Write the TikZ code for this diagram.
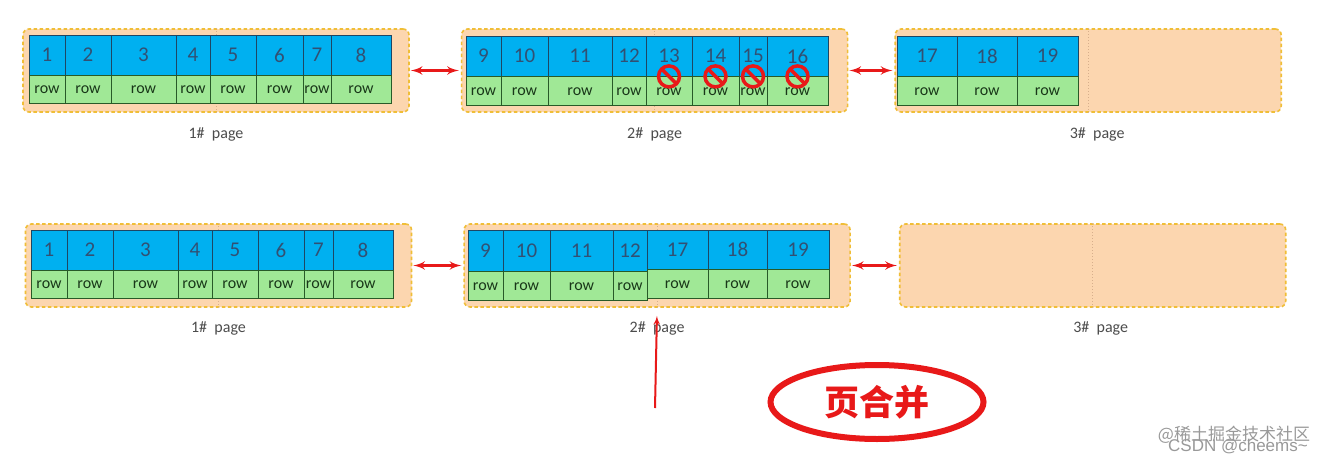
\documentclass[tikz,border=0pt]{standalone}
\usepackage{fontspec}
\setmainfont{Carlito}
\newfontfamily\cjk{Noto Sans CJK SC}
\newfontfamily\wmfont{Liberation Sans}
\usepackage{tikz}
\usetikzlibrary{positioning,arrows,shapes.geometric}
\definecolor{cellblue}{RGB}{0,176,240}
\definecolor{cellline}{RGB}{30,70,100}
\definecolor{numtext}{RGB}{50,80,115}
\definecolor{rowgreen}{RGB}{160,232,150}
\definecolor{rowline}{RGB}{40,90,40}
\definecolor{rowtext}{RGB}{25,55,25}
\definecolor{pagefill}{RGB}{252,214,175}
\definecolor{pageline}{RGB}{240,190,55}
\definecolor{halfline}{RGB}{215,175,140}
\definecolor{arrowred}{RGB}{232,25,25}
\tikzstyle{page} = [rectangle, draw=pageline, fill=pagefill, dash pattern=on 3.5pt off 2.5pt,
    line width=1.6pt, rounded corners=6pt, minimum width=386, minimum height=83]
\tikzstyle{divider} = [draw=halfline, dotted, line width=1pt]
\tikzstyle{numcell} = [rectangle, draw=cellline, fill=cellblue, line width=0.8pt, inner sep=0pt,
    text=numtext, font=\fontsize{21}{21}\selectfont]
\tikzstyle{rowcell} = [rectangle, draw=rowline, fill=rowgreen, line width=0.8pt, inner sep=0pt,
    text=rowtext, font=\fontsize{16}{16}\selectfont]
\tikzstyle{pagelabel} = [text=black!70, font=\fontsize{16}{16}\selectfont]
\tikzstyle{line} = [draw, latex'-latex', arrowred, line width=3pt, shorten <=1pt, shorten >=2pt]
\tikzstyle{uparrow} = [draw, -latex', arrowred, line width=2pt]
\tikzstyle{forbid} = [circle, draw=arrowred, line width=3.5pt, minimum size=21, inner sep=0pt,
    path picture={\draw[arrowred, line width=3.5pt] (path picture bounding box.north west) -- (path picture bounding box.south east);}]
\tikzstyle{merge} = [ellipse, draw=arrowred, line width=6pt, minimum width=213, minimum height=74,
    text=arrowred, font=\cjk\bfseries\fontsize{35}{35}\selectfont]
\tikzstyle{wmtext} = [text=black!40, font=\fontsize{17}{17}\selectfont]

\begin{document}
\begin{tikzpicture}[x=1pt, y=-1pt, node distance=0pt]
      \fill [white] (0,0) rectangle (1330,463);
      \useasboundingbox (0,0) rectangle (1330,463);
      % pages before the merge
      \node [page] (p1) at (216,70.5) {};
      \node [page, right=51pt of p1] (p2) {};
      \node [page, right=46pt of p2] (p3) {};
      \node [pagelabel, below=11pt of p1] (l1) {1\#\ \ page};
      \node [pagelabel, below=11pt of p2] (l2) {2\#\ \ page};
      \node [pagelabel, below=11pt of p3, xshift=9pt] (l3) {3\#\ \ page};
      % pages after the merge
      \node [page] (q1) at (218.5,265.5) {};
      \node [page, right=51pt of q1] (q2) {};
      \node [page, right=48pt of q2] (q3) {};
      \node [pagelabel, below=10pt of q1] (m1) {1\#\ \ page};
      \node [pagelabel, below=10pt of q2] (m2) {2\#\ \ page};
      \node [pagelabel, below=10pt of q3, xshift=8pt] (m3) {3\#\ \ page};
      % half page marks
      \foreach \p in {p1,p2,p3,q1,q2,q3}
        \draw [divider] (\p.north) -- (\p.south);
      % records, top
      \foreach \n/\xa/\xb in {1/29/65, 2/65/111, 3/111/176, 4/176/210, 5/210/256, 6/256/303, 7/303/331, 8/331/391}{
        \node [numcell, minimum width=\xb-\xa, minimum height=40] (t\n) at ({(\xa+\xb)/2},55) {\n};
        \node [rowcell, minimum width=\xb-\xa, minimum height=28, below=0pt of t\n] (tr\n) {row};
      }
      \foreach \n/\xa/\xb in {9/466/501, 10/501/548, 11/548/612, 12/612/646, 13/646/692, 14/692/739, 15/739/767, 16/767/828,
                             17/897/957, 18/957/1017, 19/1017/1078}{
        \node [numcell, minimum width=\xb-\xa, minimum height=40] (t\n) at ({(\xa+\xb)/2},56) {\n};
        \node [rowcell, minimum width=\xb-\xa, minimum height=29, below=0pt of t\n] (tr\n) {row};
      }
      % records, bottom
      \foreach \n/\xa/\xb in {1/31/67, 2/67/113, 3/113/178, 4/178/212, 5/212/258, 6/258/304, 7/304/333, 8/333/393}{
        \node [numcell, minimum width=\xb-\xa, minimum height=40] (b\n) at ({(\xa+\xb)/2},250) {\n};
        \node [rowcell, minimum width=\xb-\xa, minimum height=28, below=0pt of b\n] (br\n) {row};
      }
      \foreach \n/\xa/\xb in {9/468/503, 10/503/550, 11/550/613, 12/613/647}{
        \node [numcell, minimum width=\xb-\xa, minimum height=41] (b\n) at ({(\xa+\xb)/2},250.5) {\n};
        \node [rowcell, minimum width=\xb-\xa, minimum height=29, below=0pt of b\n] (br\n) {row};
      }
      \foreach \n/\xa/\xb in {17/647/708, 18/708/767, 19/767/829}{
        \node [numcell, minimum width=\xb-\xa, minimum height=39] (b\n) at ({(\xa+\xb)/2},249.5) {\n};
        \node [rowcell, minimum width=\xb-\xa, minimum height=29, below=0pt of b\n] (br\n) {row};
      }
      % deleted records
      \foreach \n in {13,14,15,16}
        \node [forbid] (x\n) at (t\n.south) {};
      % Draw edges
      \path [line] (p1) -- (p2);
      \path [line] (p2) -- (p3);
      \path [line] (q1) -- (q2);
      \path [line] (q2) -- (q3);
      \coordinate (mrg) at (655,408);
      \path [uparrow, shorten >=8pt] (mrg) -- (q2.south);
      \node [merge] (hb) at (877,402) {页合并};
      % watermark
      \node [wmtext] (wm1) at (1234,435) {\cjk @稀土掘金技术社区};
      \node [wmtext] (wm2) at (1238,447) {\wmfont CSDN @cheems\textasciitilde};
  \end{tikzpicture}
\end{document}
